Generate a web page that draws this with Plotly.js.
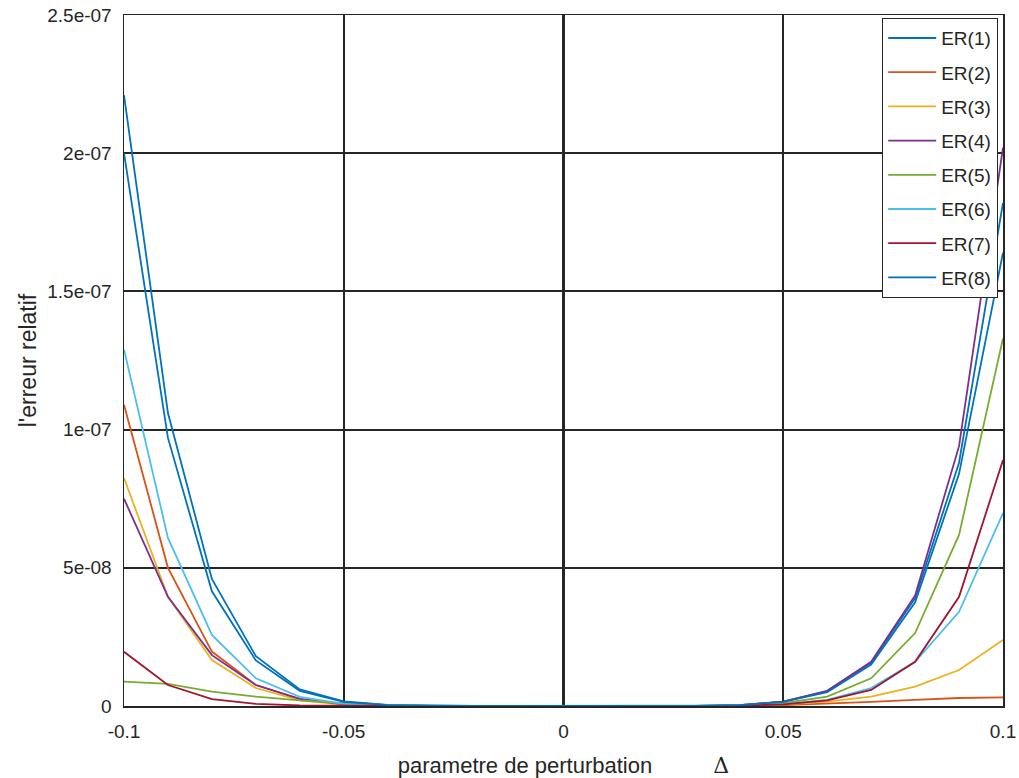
<!DOCTYPE html>
<html>
<head>
<meta charset="utf-8">
<script src="https://cdn.plot.ly/plotly-3.0.1.min.js"></script>
<style>html,body{margin:0;padding:0;background:#fff;}#chart{width:1019px;height:778px;}</style>
</head>
<body>
<div id="chart"></div>
<script>
var delta = [-0.1,-0.09,-0.08,-0.07,-0.06,-0.05,-0.04,-0.03,-0.02,-0.01,0,0.01,0.02,0.03,0.04,0.05,0.06,0.07,0.08,0.09,0.1];

var er1 = [22.1e-8,10.6e-8,4.6e-8,1.8e-8,0.6e-8,0.17e-8,0.04e-8,0.005e-8,0,0,0,0,0,0.004e-8,0.03e-8,0.16e-8,0.54e-8,1.57e-8,3.9e-8,8.8e-8,18.2e-8];
var er2 = [10.9e-8,5.0e-8,1.97e-8,0.76e-8,0.25e-8,0.06e-8,0.01e-8,0,0,0,0,0,0,0.001e-8,0.005e-8,0.03e-8,0.08e-8,0.15e-8,0.22e-8,0.29e-8,0.31e-8];
var er3 = [8.25e-8,3.95e-8,1.66e-8,0.65e-8,0.2e-8,0.05e-8,0.01e-8,0,0,0,0,0,0,0.002e-8,0.015e-8,0.06e-8,0.16e-8,0.34e-8,0.7e-8,1.3e-8,2.39e-8];
var er4 = [7.5e-8,3.95e-8,1.84e-8,0.76e-8,0.26e-8,0.07e-8,0.015e-8,0,0,0,0,0,0,0.004e-8,0.03e-8,0.16e-8,0.55e-8,1.6e-8,4.0e-8,9.4e-8,20.2e-8];
var er5 = [0.88e-8,0.8e-8,0.52e-8,0.34e-8,0.2e-8,0.1e-8,0.03e-8,0.005e-8,0,0,0,0,0,0.003e-8,0.02e-8,0.1e-8,0.34e-8,1.0e-8,2.64e-8,6.19e-8,13.3e-8];
var er6 = [12.9e-8,6.08e-8,2.57e-8,1.0e-8,0.33e-8,0.08e-8,0.015e-8,0,0,0,0,0,0,0.002e-8,0.015e-8,0.07e-8,0.22e-8,0.65e-8,1.6e-8,3.41e-8,6.98e-8];
var er7 = [1.96e-8,0.76e-8,0.25e-8,0.08e-8,0.02e-8,0.005e-8,0,0,0,0,0,0,0,0.001e-8,0.01e-8,0.06e-8,0.2e-8,0.58e-8,1.6e-8,3.95e-8,8.9e-8];
var er8 = [20.0e-8,9.7e-8,4.15e-8,1.65e-8,0.55e-8,0.15e-8,0.035e-8,0.005e-8,0,0,0,0,0,0.004e-8,0.03e-8,0.15e-8,0.5e-8,1.5e-8,3.75e-8,8.4e-8,16.4e-8];

var seriesNames = ["ER(1)","ER(2)","ER(3)","ER(4)","ER(5)","ER(6)","ER(7)","ER(8)"];
var seriesValues = [er1,er2,er3,er4,er5,er6,er7,er8];
var seriesColors = ["#0072BD","#D95319","#EDB120","#7E2F8E","#77AC30","#4DBEEE","#A2142F","#0072BD"];

var xTickVals = [-0.1,-0.05,0,0.05,0.1];
var xTickText = ["-0.1","-0.05","0","0.05","0.1"];
var yTickVals = [0,5e-8,1e-7,1.5e-7,2e-7,2.5e-7];
var yTickText = ["0","5e-08","1e-07","1.5e-07","2e-07","2.5e-07"];

var traces = seriesNames.map(function(n,i){
  return {x: delta, y: seriesValues[i], type:'scatter', mode:'lines', name:n,
          legendgroup:'g'+i, line:{color:seriesColors[i], width:1.8}};
});

var txt = '#262626';
var layout = {
  width:1019, height:778,
  margin:{l:124, r:16, t:15, b:72},
  paper_bgcolor:'#fff', plot_bgcolor:'#fff',
  font:{family:'"Liberation Sans", Arial, sans-serif', size:19, color:txt},
  showlegend:true,
  legend:{x:0.9943, y:0.9957, xanchor:'right', yanchor:'top', bgcolor:'#fff',
          bordercolor:'#262626', borderwidth:1.2, tracegroupgap:6.5, itemwidth:48,
          font:{size:19, color:txt}, traceorder:'grouped'},
  xaxis:{range:[-0.1,0.1], tickvals:xTickVals, ticktext:xTickText,
         showgrid:true, gridcolor:'#262626', gridwidth:2.2, zeroline:false,
         showline:true, mirror:true, linecolor:'#262626', linewidth:1.5,
         ticks:'', ticklen:0, ticklabelstandoff:8, tickfont:{size:19,color:txt},
         title:{text:'parametre de perturbation\u00A0\u00A0\u00A0\u00A0\u00A0\u00A0\u00A0\u00A0\u00A0\u00A0<span style="font-family:\'DejaVu Serif\',serif">\u0394</span>', font:{size:22,color:txt}, standoff:16}},
  yaxis:{range:[0,2.5e-7], tickvals:yTickVals, ticktext:yTickText,
         showgrid:true, gridcolor:'#262626', gridwidth:1.8, zeroline:false,
         showline:true, mirror:true, linecolor:'#262626', linewidth:1.5,
         ticks:'outside', ticklen:7, tickcolor:'rgba(0,0,0,0)', tickfont:{size:19,color:txt},
         title:{text:"l'erreur relatif", font:{size:23,color:txt}, standoff:4}}
};

Plotly.newPlot('chart', traces, layout, {displayModeBar:false, staticPlot:true});
</script>
</body>
</html>
